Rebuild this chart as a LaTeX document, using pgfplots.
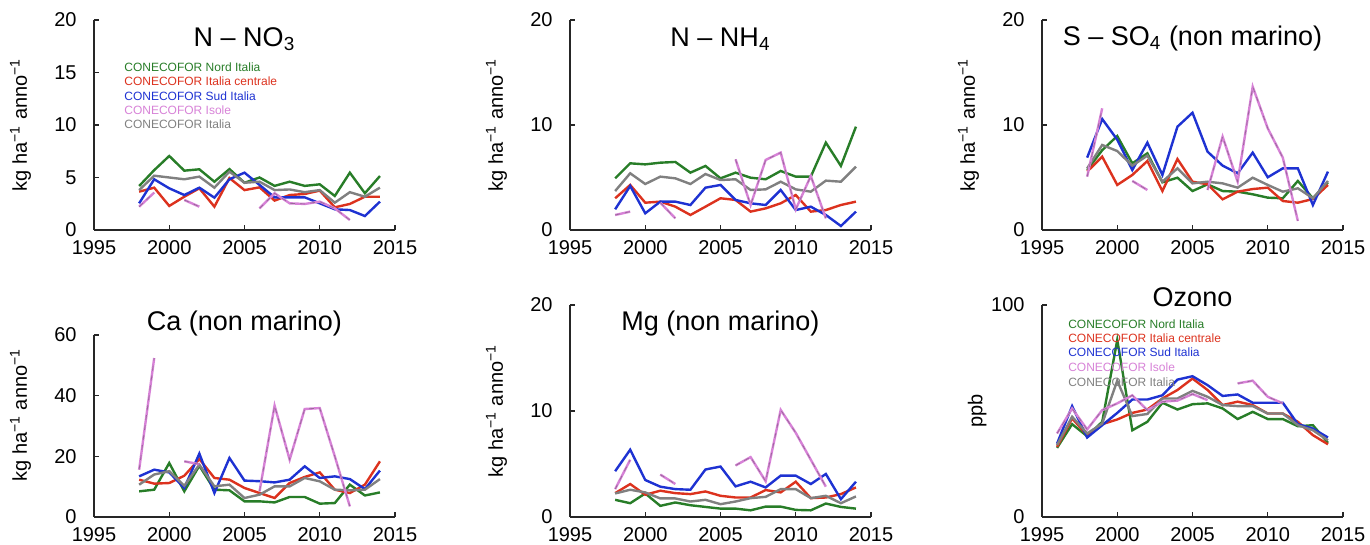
\documentclass[border=0pt]{standalone}
\usepackage{fontspec}
\setmainfont{Liberation Sans}
\usepackage{pgfplots}
\usepackage{pgfplotstable}
\pgfplotsset{compat=1.18}
\definecolor{nordc}{RGB}{40,125,40}
\definecolor{centc}{RGB}{220,50,30}
\definecolor{sudc}{RGB}{30,50,210}
\definecolor{isolec}{RGB}{215,130,215}
\definecolor{italc}{RGB}{128,128,128}

\pgfplotstableread{
year nord cent sud isole ital
1998 4.19 3.65 2.54 2.22 3.80
1999 5.70 4.03 4.83 3.56 5.17
2000 7.05 2.29 3.97 nan 5.00
2001 5.65 3.17 3.33 2.86 4.83
2002 5.78 3.97 4.03 2.22 5.08
2003 4.60 2.22 3.08 nan 4.03
2004 5.80 4.95 4.83 nan 5.56
2005 4.50 3.80 5.46 nan 4.50
2006 5.00 4.06 4.29 2.06 4.60
2007 4.20 2.80 3.11 3.50 3.80
2008 4.60 3.33 3.11 2.54 3.86
2009 4.20 3.43 3.11 2.48 3.60
2010 4.35 3.75 2.54 2.70 3.80
2011 3.24 2.16 1.97 2.06 2.60
2012 5.46 2.48 1.90 0.95 3.60
2013 3.50 3.17 1.33 nan 3.17
2014 5.14 3.17 2.70 nan 4.03
}\tNO

\pgfplotstableread{
year nord cent sud isole ital
1998 4.92 3.02 1.97 1.43 3.71
1999 6.35 4.29 4.19 1.75 5.40
2000 6.25 2.60 1.59 nan 4.38
2001 6.41 2.70 2.70 2.60 5.08
2002 6.48 2.22 2.70 1.11 4.92
2003 5.46 1.43 2.38 nan 4.38
2004 6.10 2.22 4.03 nan 5.33
2005 4.92 3.02 4.29 nan 4.76
2006 5.46 2.86 2.86 6.73 4.83
2007 4.98 1.75 2.54 2.38 3.81
2008 4.83 2.06 2.38 6.67 3.87
2009 5.62 2.54 3.81 7.37 4.60
2010 5.08 3.33 1.90 1.97 3.87
2011 5.08 1.75 2.22 5.14 3.65
2012 8.32 1.90 1.43 1.11 4.70
2013 6.10 2.38 0.38 nan 4.60
2014 9.84 2.70 1.75 nan 6.03
}\tNH

\pgfplotstableread{
year nord cent sud isole ital
1998 5.71 5.56 6.89 5.08 5.87
1999 7.60 6.98 10.57 11.59 8.10
2000 8.95 4.29 8.60 nan 7.52
2001 6.35 5.24 5.71 4.67 6.13
2002 7.30 6.57 8.32 3.81 7.08
2003 4.54 3.71 5.24 nan 4.60
2004 4.98 6.76 9.84 nan 5.87
2005 3.71 4.60 11.17 nan 4.44
2006 4.35 4.35 7.46 3.81 4.60
2007 3.71 2.92 6.13 8.89 4.44
2008 3.65 3.65 5.40 4.60 4.03
2009 3.40 3.90 7.37 13.65 4.98
2010 3.08 4.03 5.02 9.68 4.29
2011 3.02 2.76 5.87 6.89 3.65
2012 4.67 2.60 5.87 0.86 3.97
2013 3.02 2.95 2.38 nan 3.02
2014 4.54 4.29 5.56 nan 4.67
}\tSO

\pgfplotstableread{
year nord cent sud isole ital
1998 8.46 12.3 13.4 15.6 10.66
1999 9.0 11.0 15.6 52.4 14.0
2000 17.8 11.2 14.7 nan 15.1
2001 8.46 13.6 9.56 18.35 10.3
2002 16.9 19.1 20.9 17.4 17.25
2003 9.0 12.86 7.9 nan 10.1
2004 8.8 12.3 19.45 nan 10.66
2005 5.16 9.56 12.0 nan 6.26
2006 5.16 7.9 11.8 8.46 7.36
2007 4.8 6.26 11.4 36.7 10.1
2008 6.6 11.2 12.3 18.9 10.1
2009 6.6 13.2 16.7 35.6 12.86
2010 4.4 14.7 12.86 35.9 11.76
2011 4.6 9.0 13.4 20.0 9.0
2012 10.66 7.9 12.5 3.5 8.8
2013 7.1 10.66 9.2 nan 9.0
2014 8.1 18.35 15.3 nan 12.5
}\tCa

\pgfplotstableread{
year nord cent sud isole ital
1998 1.62 2.25 4.32 2.63 2.22
1999 1.30 3.11 6.35 5.40 2.57
2000 2.22 2.10 3.49 nan 2.32
2001 1.05 2.48 2.86 4.00 1.75
2002 1.37 2.25 2.63 3.11 1.75
2003 1.11 2.16 2.57 nan 1.46
2004 0.95 2.41 4.48 nan 1.62
2005 0.79 2.00 4.76 nan 1.21
2006 0.79 1.84 2.89 4.86 1.46
2007 0.63 1.84 3.33 5.65 1.78
2008 0.98 2.54 2.79 3.37 1.90
2009 0.98 2.32 3.90 10.10 2.63
2010 0.67 3.33 3.90 7.94 2.63
2011 0.63 1.78 3.11 5.40 1.78
2012 1.27 1.84 4.06 2.86 2.00
2013 0.95 2.16 1.68 nan 1.30
2014 0.79 2.79 3.33 nan 1.94
}\tMg

\pgfplotstableread{
year nord cent sud isole ital
1996 32.6 33.1 34.6 39.4 33.9
1997 43.8 46.5 52.3 51.2 47.3
1998 38.1 38.6 37.5 41.3 39.4
1999 44.9 43.8 43.3 50.4 44.1
2000 83.5 46.0 49.1 53.6 64.3
2001 40.9 49.1 55.4 57.4 47.6
2002 44.9 50.7 55.4 50.4 48.6
2003 53.9 55.9 57.4 54.4 55.9
2004 50.7 59.9 64.8 54.9 55.9
2005 53.2 65.3 66.4 58.0 59.5
2006 53.6 59.9 62.2 55.1 56.7
2007 51.2 52.8 57.1 nan 52.8
2008 46.2 54.4 57.8 63.0 52.3
2009 49.6 52.8 53.9 64.3 52.3
2010 46.2 48.8 53.9 56.7 48.8
2011 46.2 48.8 53.9 53.6 48.8
2012 42.8 44.9 43.8 nan 43.3
2013 43.3 38.6 41.7 nan 40.9
2014 35.0 34.3 37.5 nan 36.2
}\tOz

\newcommand\allseries[1]{%
  \addplot[nordc] table[x=year,y=nord] {#1};
  \addplot[centc] table[x=year,y=cent] {#1};
  \addplot[sudc] table[x=year,y=sud] {#1};
  \addplot[italc] table[x=year,y=ital] {#1};
  \addplot[isolec] table[x=year,y=isole] {#1};
  \addplot[black!70, line width=0.35pt, dash pattern=on 2.5pt off 2.5pt, opacity=0.45] table[x=year,y=isole] {#1};
}
\tikzset{
  lg/.style={anchor=west, inner sep=0pt, font=\fontsize{6}{7}\selectfont},
  ttl/.style={anchor=base, inner sep=0pt, font=\fontsize{13.5}{16}\selectfont},
}
\newcommand\panellegend[6]{%
  \node[lg, text=nordc] at (axis description cs:#1,#2) {CONECOFOR Nord Italia};
  \node[lg, text=centc] at (axis description cs:#1,#3) {CONECOFOR Italia centrale};
  \node[lg, text=sudc] at (axis description cs:#1,#4) {CONECOFOR Sud Italia};
  \node[lg, text=isolec] at (axis description cs:#1,#5) {CONECOFOR Isole};
  \node[lg, text=italc] at (axis description cs:#1,#6) {CONECOFOR Italia};
}

\pgfplotsset{
  panel/.style={
    scale only axis, width=150.5pt,
    xmin=1995, xmax=2015, xtick={1995,2000,2005,2010,2015},
    ymin=0,
    axis lines=left, axis line style={-, line width=0.6pt, black!85},
    tick align=inside, major tick length=2.5pt,
    tick style={black!85, line width=0.6pt},
    /pgf/number format/assume math mode=true,
    /pgf/number format/1000 sep={},
    ticklabel style={font=\fontsize{10}{12}\selectfont},
    xticklabel style={yshift=-1.5pt},
    yticklabel style={xshift=-5.2pt},
    ylabel style={font=\fontsize{10}{12}\selectfont, at={(axis description cs:-0.208,0.5)}, anchor=south, inner sep=0pt},
    ylabel={kg ha\textsuperscript{−1} anno\textsuperscript{−1}},
    unbounded coords=jump,
    every axis plot/.append style={line width=1.2pt},
    clip=false,
  },
}

\begin{document}
\begin{tikzpicture}
\useasboundingbox (0,0) rectangle (685pt,272.5pt);

% N-NO3
\begin{axis}[panel, at={(47pt,157.5pt)}, anchor=south west, height=105pt,
  ymax=20, ytick={0,5,10,15,20}]
\allseries{\tNO}
\node[ttl] at (axis description cs:0.5,0.873) {N – NO\textsubscript{3}};
\panellegend{0.0997}{0.776}{0.710}{0.638}{0.571}{0.505}
\end{axis}

% N-NH4
\begin{axis}[panel, at={(285pt,157.5pt)}, anchor=south west, height=105pt,
  ymax=20, ytick={0,10,20}]
\allseries{\tNH}
\node[ttl] at (axis description cs:0.5,0.873) {N – NH\textsubscript{4}};
\end{axis}

% S-SO4
\begin{axis}[panel, at={(521pt,157.5pt)}, anchor=south west, height=105pt,
  ymax=20, ytick={0,10,20}]
\allseries{\tSO}
\node[ttl] at (axis description cs:0.5,0.878) {S – SO\textsubscript{4} (non marino)};
\end{axis}

% Ca
\begin{axis}[panel, at={(47pt,14pt)}, anchor=south west, height=91pt,
  ymax=60, ytick={0,20,40,60},
  ylabel style={at={(axis description cs:-0.208,0.56)}}]
\allseries{\tCa}
\node[ttl] at (axis description cs:0.5,1.024) {Ca (non marino)};
\end{axis}

% Mg
\begin{axis}[panel, at={(285pt,14pt)}, anchor=south west, height=106pt,
  ymax=20, ytick={0,10,20}]
\allseries{\tMg}
\node[ttl] at (axis description cs:0.5,0.879) {Mg (non marino)};
\end{axis}

% Ozono
\begin{axis}[panel, at={(521pt,14pt)}, anchor=south west, height=106pt,
  ymax=100, ytick={0,100}, ylabel={ppb},
  ylabel style={at={(axis description cs:-0.183,0.5)}}]
\allseries{\tOz}
\node[ttl] at (axis description cs:0.5,0.995) {Ozono};
\panellegend{0.086}{0.910}{0.843}{0.775}{0.706}{0.638}
\end{axis}
\end{tikzpicture}
\end{document}
